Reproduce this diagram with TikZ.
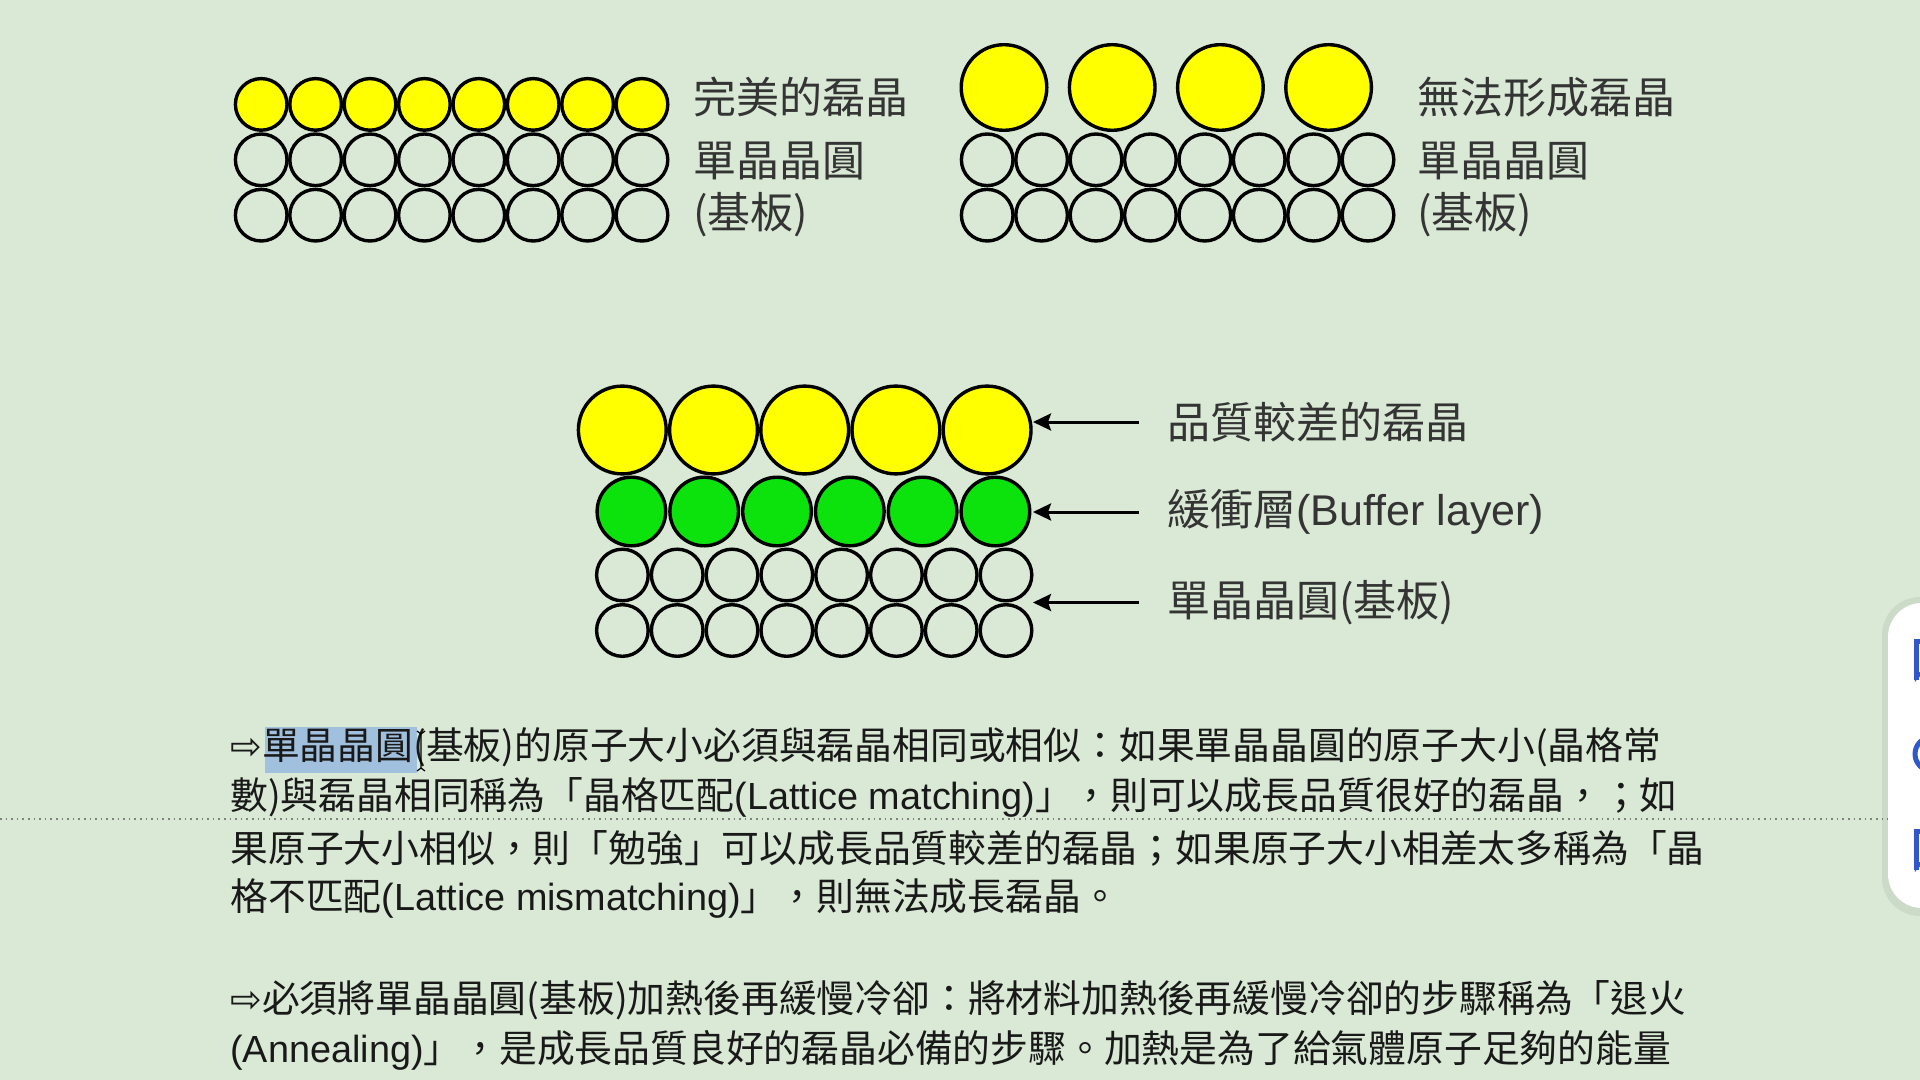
\documentclass[tikz,border=0pt]{standalone}
\usepackage{fontspec}
\usepackage{tikz}
\usetikzlibrary{arrows.meta}
\setmainfont[Script=CJK,Language=Chinese Traditional]{Noto Sans CJK TC}
\newfontfamily\lat{Liberation Sans}
\newfontfamily\sym{DejaVu Sans}
\definecolor{pagebg}{RGB}{217,233,213}
\definecolor{atomyellow}{RGB}{255,255,0}
\definecolor{atomgreen}{RGB}{12,226,12}
\definecolor{labelgray}{RGB}{52,52,52}
\definecolor{selblue}{RGB}{160,192,222}
\definecolor{iconblue}{RGB}{48,88,200}
\tikzset{
  atom/.style={circle, draw=black, line width=1.7pt, inner sep=0pt},
  small/.style={atom, minimum size=25.8pt},
  bigatom/.style={atom, fill=atomyellow, minimum size=42.8pt},
  midatom/.style={atom, fill=atomyellow, minimum size=43.9pt},
  buffatom/.style={atom, fill=atomgreen, minimum size=34.3pt},
  label/.style={anchor=west, inner sep=0pt, text=labelgray, font=\fontsize{21.5pt}{26pt}\selectfont},
  para/.style={anchor=west, inner sep=0pt, text=black!90, font=\fontsize{18.9pt}{23pt}\selectfont},
  pointer/.style={-{Stealth[length=9pt,width=8.5pt,inset=1.5pt]}, line width=1.5pt}
}
\begin{document}
\begin{tikzpicture}[x=0.5pt,y=-0.5pt]
        \useasboundingbox (0,0) rectangle (1920,1080);
        \fill [pagebg] (0,0) rectangle (1920,1080);
        \clip (0,0) rectangle (1920,1080);

        % perfect epitaxy
        \node [small, fill=atomyellow] (a1) at (261.2,104.4) {};
        \node [small, fill=atomyellow] (a2) at (315.6,104.4) {};
        \node [small, fill=atomyellow] (a3) at (370.0,104.4) {};
        \node [small, fill=atomyellow] (a4) at (424.4,104.4) {};
        \node [small, fill=atomyellow] (a5) at (478.8,104.4) {};
        \node [small, fill=atomyellow] (a6) at (533.2,104.4) {};
        \node [small, fill=atomyellow] (a7) at (587.6,104.4) {};
        \node [small, fill=atomyellow] (a8) at (642.0,104.4) {};
        \node [small] (b1) at (261.2,159.8) {};
        \node [small] (b2) at (315.6,159.8) {};
        \node [small] (b3) at (370.0,159.8) {};
        \node [small] (b4) at (424.4,159.8) {};
        \node [small] (b5) at (478.8,159.8) {};
        \node [small] (b6) at (533.2,159.8) {};
        \node [small] (b7) at (587.6,159.8) {};
        \node [small] (b8) at (642.0,159.8) {};
        \node [small] (c1) at (261.2,215.2) {};
        \node [small] (c2) at (315.6,215.2) {};
        \node [small] (c3) at (370.0,215.2) {};
        \node [small] (c4) at (424.4,215.2) {};
        \node [small] (c5) at (478.8,215.2) {};
        \node [small] (c6) at (533.2,215.2) {};
        \node [small] (c7) at (587.6,215.2) {};
        \node [small] (c8) at (642.0,215.2) {};
        \node [label] (perfect) at (693,97) {完美的磊晶};
        \node [label] (wafer1) at (693,161) {單晶晶圓};
        \node [label] (base1) at (693,215) {(基板)};

        % no epitaxy
        \node [bigatom] (d1) at (1004.0,87.5) {};
        \node [bigatom] (d2) at (1112.2,87.5) {};
        \node [bigatom] (d3) at (1220.4,87.5) {};
        \node [bigatom] (d4) at (1328.6,87.5) {};
        \node [small] (e1) at (987.2,159.8) {};
        \node [small] (e2) at (1041.6,159.8) {};
        \node [small] (e3) at (1096.0,159.8) {};
        \node [small] (e4) at (1150.4,159.8) {};
        \node [small] (e5) at (1204.8,159.8) {};
        \node [small] (e6) at (1259.2,159.8) {};
        \node [small] (e7) at (1313.6,159.8) {};
        \node [small] (e8) at (1368.0,159.8) {};
        \node [small] (f1) at (987.2,215.2) {};
        \node [small] (f2) at (1041.6,215.2) {};
        \node [small] (f3) at (1096.0,215.2) {};
        \node [small] (f4) at (1150.4,215.2) {};
        \node [small] (f5) at (1204.8,215.2) {};
        \node [small] (f6) at (1259.2,215.2) {};
        \node [small] (f7) at (1313.6,215.2) {};
        \node [small] (f8) at (1368.0,215.2) {};
        \node [label] (noepi) at (1417,97) {無法形成磊晶};
        \node [label] (wafer2) at (1417,161) {單晶晶圓};
        \node [label] (base2) at (1417,215) {(基板)};

        % buffer layer
        \node [midatom] (g1) at (622.3,430) {};
        \node [midatom] (g2) at (713.5,430) {};
        \node [midatom] (g3) at (804.7,430) {};
        \node [midatom] (g4) at (895.9,430) {};
        \node [midatom] (g5) at (987.1,430) {};
        \node [buffatom] (h1) at (631.4,511.5) {};
        \node [buffatom] (h2) at (704.2,511.5) {};
        \node [buffatom] (h3) at (777.0,511.5) {};
        \node [buffatom] (h4) at (849.8,511.5) {};
        \node [buffatom] (h5) at (922.6,511.5) {};
        \node [buffatom] (h6) at (995.4,511.5) {};
        \node [small] (k1) at (622.4,575) {};
        \node [small] (k2) at (677.2,575) {};
        \node [small] (k3) at (732.0,575) {};
        \node [small] (k4) at (786.8,575) {};
        \node [small] (k5) at (841.6,575) {};
        \node [small] (k6) at (896.4,575) {};
        \node [small] (k7) at (951.2,575) {};
        \node [small] (k8) at (1006.0,575) {};
        \node [small] (m1) at (622.4,630.5) {};
        \node [small] (m2) at (677.2,630.5) {};
        \node [small] (m3) at (732.0,630.5) {};
        \node [small] (m4) at (786.8,630.5) {};
        \node [small] (m5) at (841.6,630.5) {};
        \node [small] (m6) at (896.4,630.5) {};
        \node [small] (m7) at (951.2,630.5) {};
        \node [small] (m8) at (1006.0,630.5) {};
        \node [label] (poor) at (1167,422) {品質較差的磊晶};
        \node [label] (buffer) at (1167,512) {緩衝層{\lat (Buffer layer)}};
        \node [label] (wafer3) at (1167,602.5) {單晶晶圓(基板)};
        \coordinate (tip1) at (1033,422);
        \coordinate (tip2) at (1033,512);
        \coordinate (tip3) at (1033,602.5);
        \draw [pointer] ([xshift=-14pt]poor.west) -- (tip1);
        \draw [pointer] ([xshift=-14pt]buffer.west) -- (tip2);
        \draw [pointer] ([xshift=-14pt]wafer3.west) -- (tip3);

        % text below
        \fill [selblue] (265,727) rectangle (417,773);
        \draw [dotted, gray, line width=0.8pt] (0,819) -- (1890,819);
        \node [para] (line1) at (230,747) {{\sym ⇨}單晶晶圓(基板)的原子大小必須與磊晶相同或相似：如果單晶晶圓的原子大小(晶格常};
        \node [para] (line2) at (230,797) {數)與磊晶相同稱為「晶格匹配{\lat (Lattice matching)}」，則可以成長品質很好的磊晶，；如};
        \node [para] (line3) at (230,848) {果原子大小相似，則「勉強」可以成長品質較差的磊晶；如果原子大小相差太多稱為「晶};
        \node [para] (line4) at (230,898) {格不匹配{\lat (Lattice mismatching)}」，則無法成長磊晶。};
        \node [para] (line5) at (230,1000) {{\sym ⇨}必須將單晶晶圓(基板)加熱後再緩慢冷卻：將材料加熱後再緩慢冷卻的步驟稱為「退火};
        \node [para] (line6) at (230,1050) {{\lat (Annealing)}」，是成長品質良好的磊晶必備的步驟。加熱是為了給氣體原子足夠的能量};
        \draw [line width=0.6pt] (417,731) -- (421,734) -- (421,768) -- (417,771);
        \draw [line width=0.6pt] (425,731) -- (421,734);
        \draw [line width=0.6pt] (425,771) -- (421,768);

        % side panel
        \fill [black, opacity=0.06, rounded corners=19pt] (1882,597) rectangle (1970,916);
        \fill [white, rounded corners=17pt] (1888,603) rectangle (1970,908);
        \draw [iconblue, line width=2.5pt] (1930,641) -- (1916,641) -- (1916,680);
        \fill [iconblue] (1914.8,672) -- (1924,672) -- (1914.8,682) -- cycle;
        \draw [iconblue, line width=2.5pt] (1932,754) circle (8.5pt);
        \draw [iconblue, line width=2.5pt] (1930,831) -- (1916,831) -- (1916,870);
        \fill [iconblue] (1914.8,862) -- (1924,862) -- (1914.8,872) -- cycle;
    \end{tikzpicture}
\end{document}
